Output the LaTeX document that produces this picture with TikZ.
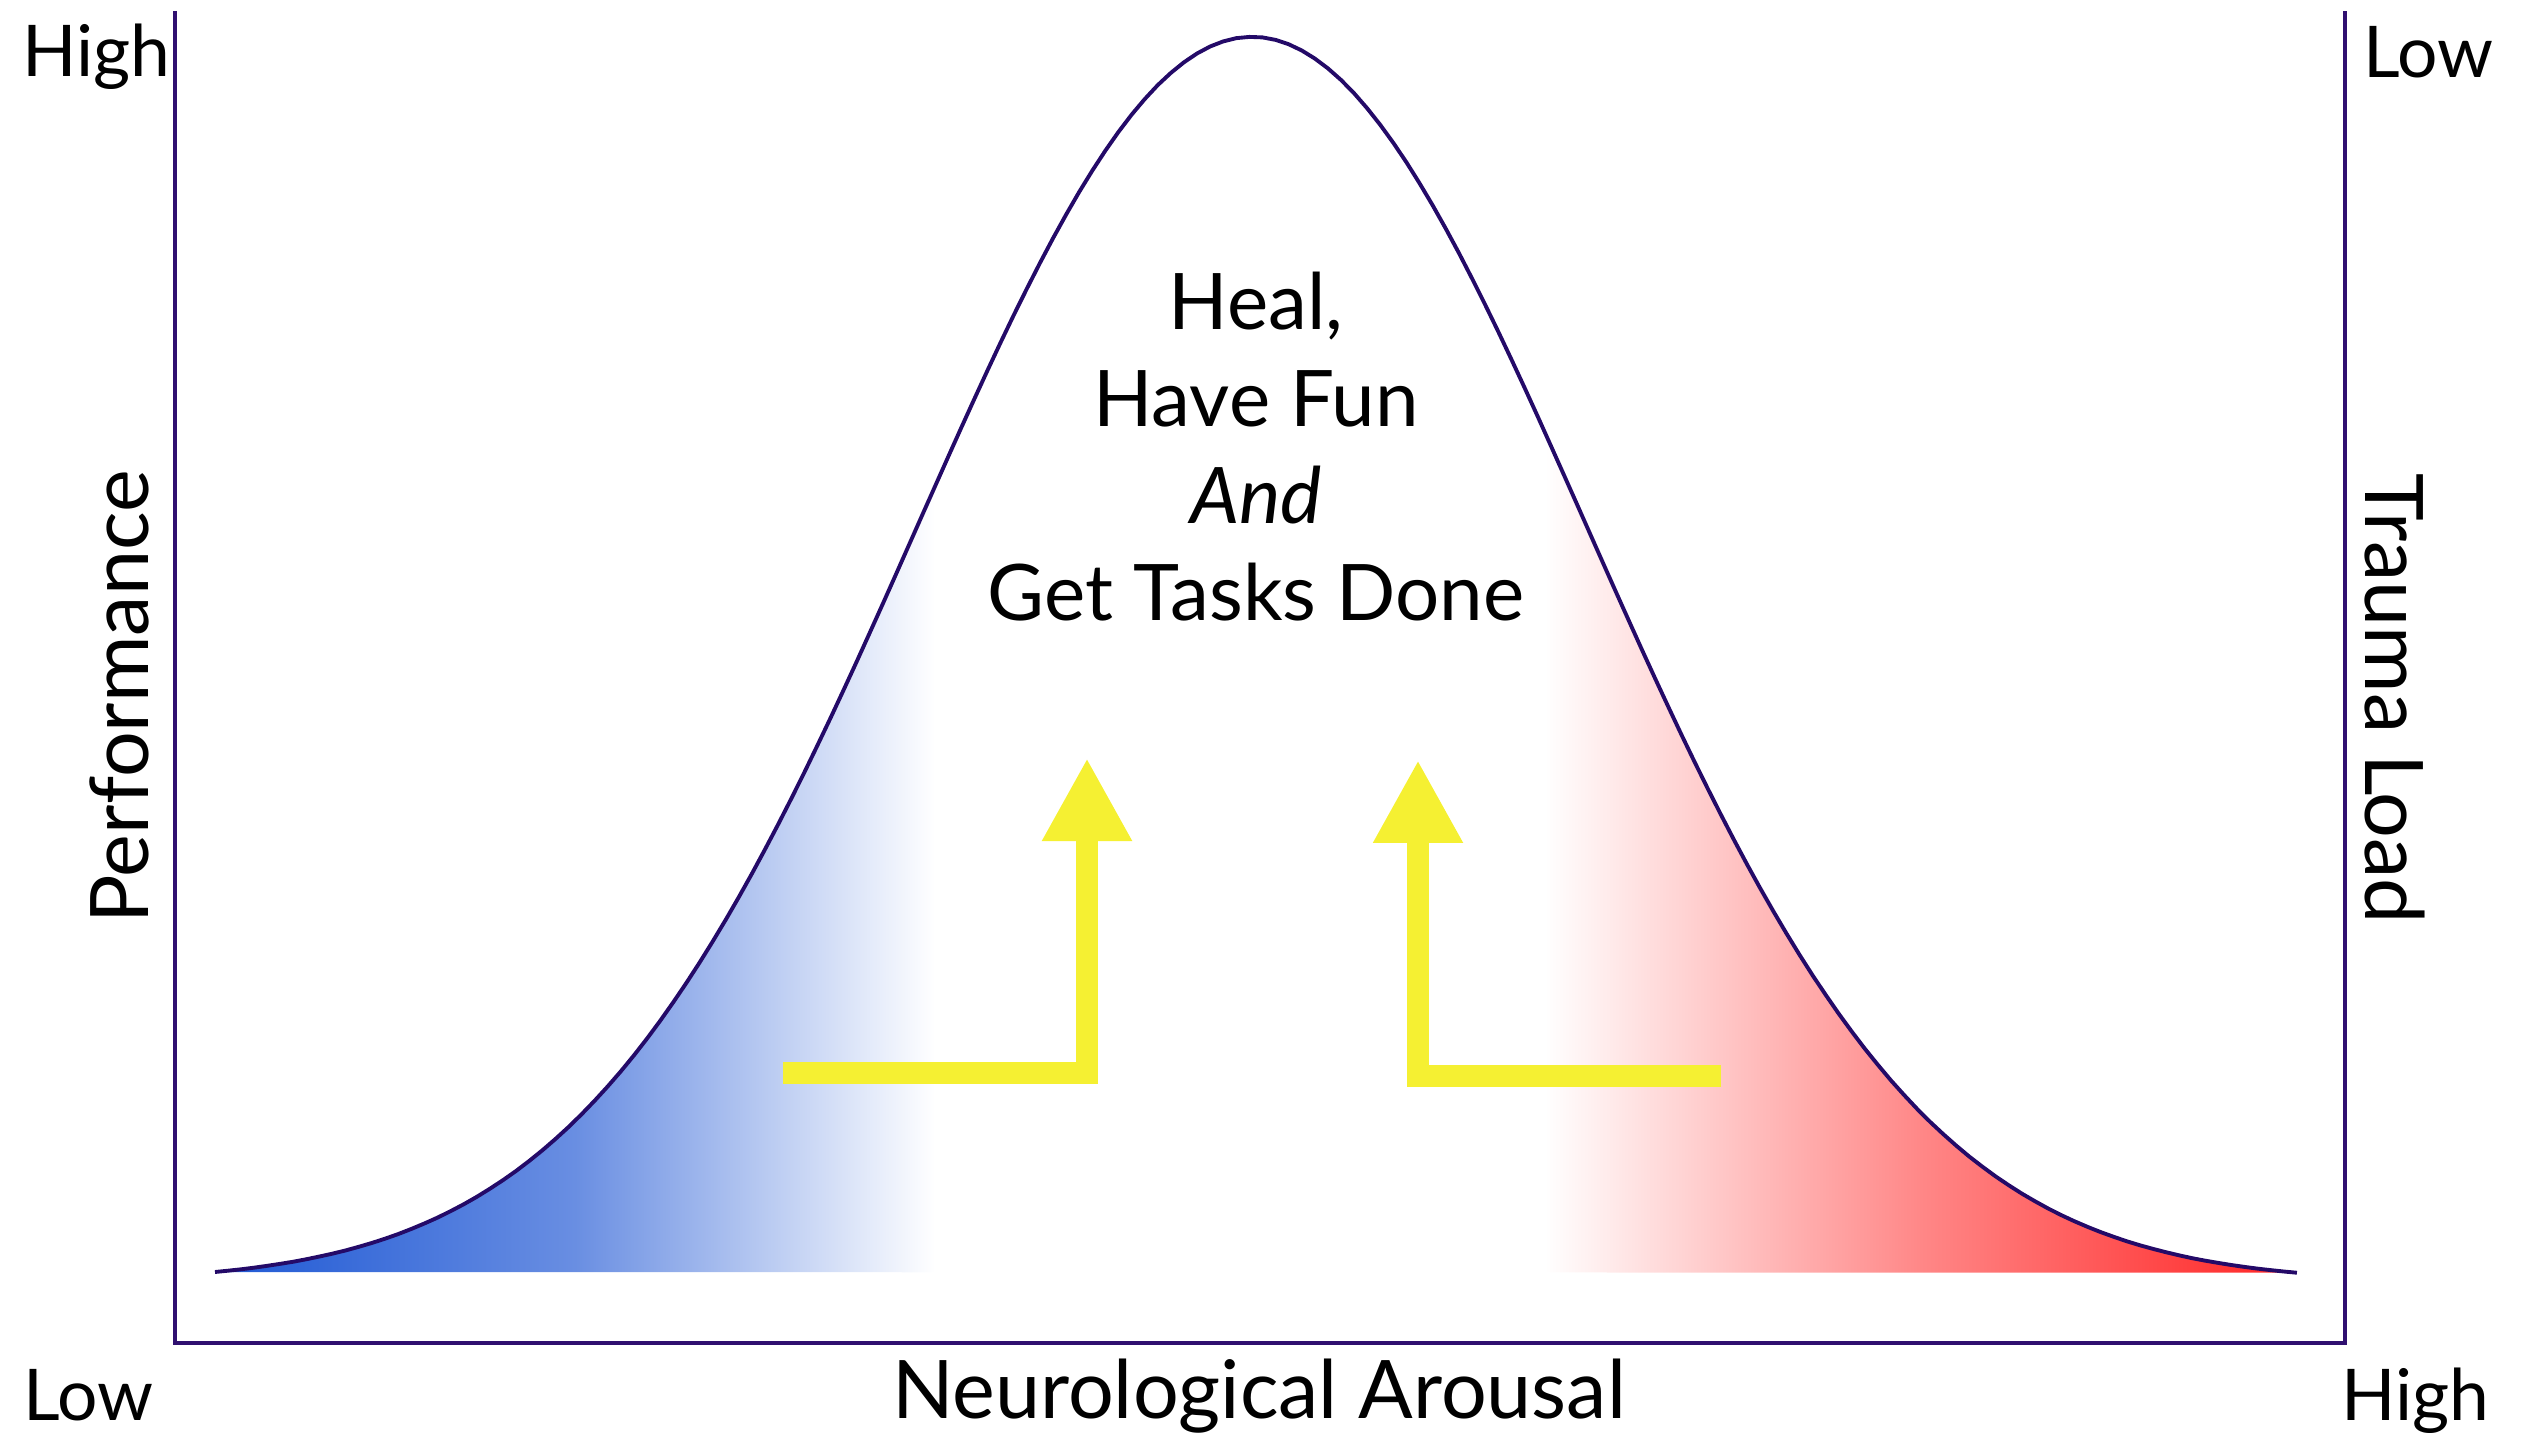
\documentclass[tikz,border=0pt]{standalone}
\usepackage{fontspec}
\setmainfont{Lato}
\usetikzlibrary{arrows.meta}
\definecolor{axisindigo}{RGB}{48,16,112}
\definecolor{curveindigo}{RGB}{36,10,104}
\definecolor{calmblue}{RGB}{30,88,212}
\definecolor{calmmid}{RGB}{105,142,226}
\definecolor{alarmred}{RGB}{255,35,35}
\definecolor{alarmmid}{RGB}{255,135,135}
\definecolor{shiftyellow}{RGB}{245,240,50}

\begin{document}
\begin{tikzpicture}[
    axislabel/.style={font=\fontsize{23}{28}\selectfont, inner sep=0pt},
    endlabel/.style={font=\fontsize{20.3}{24}\selectfont, inner sep=0pt},
    zonetext/.style={font=\fontsize{22.2}{27.6}\selectfont, align=center, inner sep=0pt},
    shiftarrow/.style={draw=shiftyellow, line width=0.22cm, line join=miter, -{Triangle[width=0.84cm, length=0.83cm]}},
    declare function={bell(\x)=1.65+12.35*(exp(-0.5*((\x-12.52)/3.35)^2)-0.0083)/0.9917;}
  ]
  \useasboundingbox (0,0) rectangle (25.26,14.37);

  % shaded area under the curve
  \begin{scope}
    \clip plot[domain=2.15:22.97, samples=160] (\x, {bell(\x)}) -- cycle;
    \shade[left color=calmblue, right color=white, middle color=calmmid] (2.15,1.6) rectangle (9.35,14.1);
    \shade[left color=white, right color=alarmred, middle color=alarmmid] (15.45,1.6) rectangle (22.97,14.1);
  \end{scope}
  \draw[curveindigo, line width=1.1pt] plot[domain=2.15:22.97, samples=160] (\x, {bell(\x)});

  % axes
  \draw[axisindigo, line width=1.4pt] (1.75,14.26) -- (1.75,0.94) -- (23.45,0.94) -- (23.45,14.26);

  \node[endlabel, anchor=base west] (perf-high) at (0.22,13.60) {High};
  \node[endlabel, anchor=base west] (perf-low) at (0.23,0.17) {Low};
  \node[endlabel, anchor=base west] (load-low) at (23.63,13.59) {Low};
  \node[endlabel, anchor=base east] (load-high) at (24.90,0.17) {High};
  \node[axislabel, rotate=90, anchor=base] (perf) at (1.48,7.40) {Performance};
  \node[axislabel, rotate=-90, anchor=base] (load) at (23.65,7.38) {Trauma Load};
  \node[axislabel, anchor=base] (arousal) at (12.59,0.19) {Neurological Arousal};

  \node[zonetext] (zone) at (12.56,9.90) {Heal,\\Have Fun\\\textit{And}\\Get Tasks Done};

  % arrows into the window
  \coordinate (calm-start) at (7.83,3.64);
  \coordinate (calm-turn) at (10.87,3.64);
  \coordinate (calm-tip) at (10.87,6.79);
  \coordinate (alarm-start) at (17.21,3.61);
  \coordinate (alarm-turn) at (14.18,3.61);
  \coordinate (alarm-tip) at (14.18,6.77);
  \draw[shiftarrow] (calm-start) -- (calm-turn) -- (calm-tip);
  \draw[shiftarrow] (alarm-start) -- (alarm-turn) -- (alarm-tip);
\end{tikzpicture}
\end{document}
